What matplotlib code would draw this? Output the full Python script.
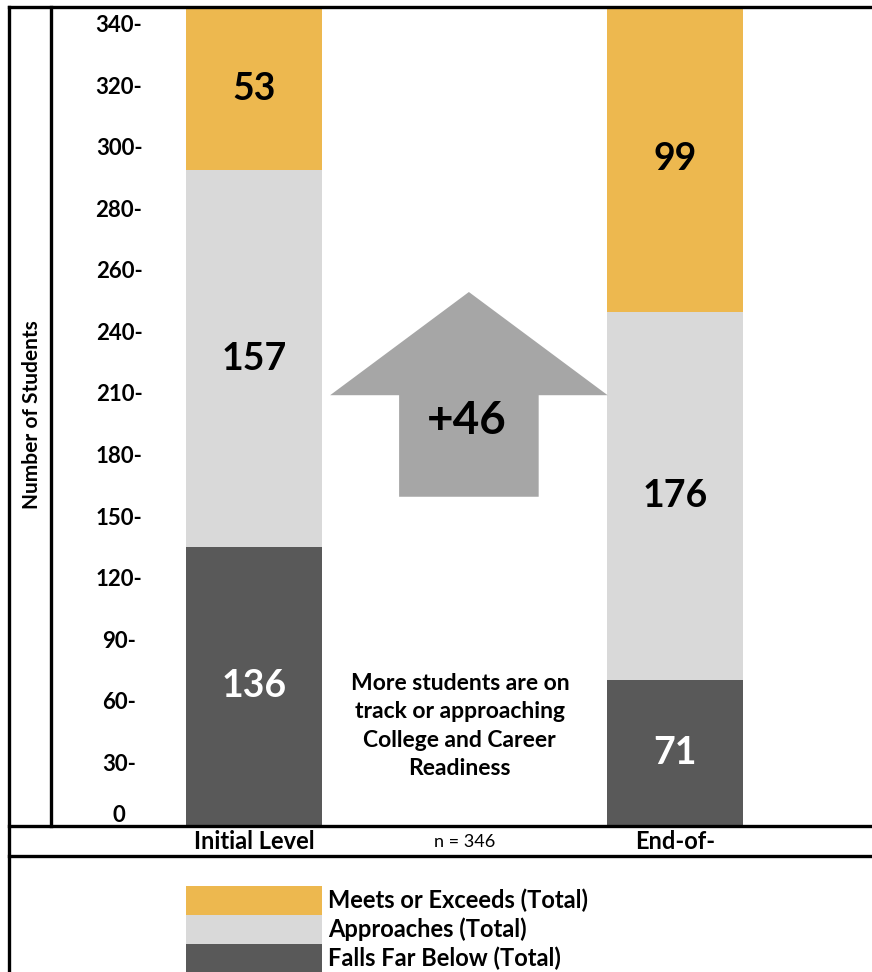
import numpy as np
import matplotlib
matplotlib.use('Agg')
import matplotlib.pyplot as plt
from matplotlib.lines import Line2D
from matplotlib.patches import Polygon

plt.rcParams['font.family'] = ['Lato', 'DejaVu Sans']
plt.rcParams['font.weight'] = 'bold'

# Student counts per level
periods = ['Initial Level', 'End-of-']
levels = ['Falls Far Below (Total)', 'Approaches (Total)', 'Meets or Exceeds (Total)']
falls_far_below = [136, 71]
approaches = [157, 176]
meets_exceeds = [53, 99]
y_ticks = [0, 30, 60, 90, 120, 150, 180, 210, 240, 260, 280, 300, 320, 340]

level_colors = ['#595959', '#D9D9D9', '#EDB84F']
label_colors = ['white', 'black', 'black']

W, H = 872, 972
fig = plt.figure(figsize=(W / 100, H / 100), dpi=100)


def fig_box(x0, y0, x1, y1):
    return [x0 / W, 1 - y1 / H, (x1 - x0) / W, (y1 - y0) / H]


def fig_line(xs, ys):
    fig.add_artist(Line2D([x / W for x in xs], [1 - y / H for y in ys],
                          transform=fig.transFigure, color='black', lw=2.4,
                          solid_capstyle='projecting'))


ax = fig.add_axes(fig_box(51, 7, W, 826))


# axis runs 30 per step up to 240, then 20 per step
def fwd(y):
    y = np.asarray(y, dtype=float)
    return np.where(y <= 240, y / 30, 8 + (y - 240) / 20)


def inv(t):
    t = np.asarray(t, dtype=float)
    return np.where(t <= 8, t * 30, 240 + (t - 8) * 20)


ax.set_yscale('function', functions=(fwd, inv))

x = np.arange(len(periods))
series = [falls_far_below, approaches, meets_exceeds]
totals = np.sum(series, axis=0)
bottom = np.zeros(len(periods))
bar_w = 0.323
containers = []
for vals, name, col, tcol in zip(series, levels, level_colors, label_colors):
    vals = np.array(vals)
    bc = ax.bar(x, vals, bar_w, bottom=bottom, color=col, label=name, linewidth=0)
    containers.append(bc)
    mid = inv((fwd(bottom) + fwd(bottom + vals)) / 2)
    for xi, yi, v in zip(x, mid, vals):
        ax.text(xi, yi, str(v), ha='center', va='center', fontsize=27,
                fontweight='bold', color=tcol)
    bottom = bottom + vals

ax.set_xlim(-0.4822, 1.4679)
ax.set_ylim(0, totals.max())
for s in ax.spines.values():
    s.set_visible(False)

ax.set_yticks(y_ticks)
ax.set_yticklabels([f'{t}-' if t else '0' for t in y_ticks],
                   ha='center', va='center', fontweight='bold')
ax.yaxis.set_minor_locator(matplotlib.ticker.NullLocator())
ax.tick_params(axis='y', length=0, pad=-49, labelsize=16)
# keep the zero label clear of the base line
ax.get_yticklabels()[0].set_va('bottom')

ax.set_xticks(x)
ax.set_xticklabels(periods, fontsize=17, fontweight='bold')
ax.tick_params(axis='x', length=0, pad=3)

ax.annotate(f'n = {totals[0]}', xy=(0.5, -0.02), xycoords=('data', 'axes fraction'),
            ha='center', va='center', fontsize=13, fontweight='normal',
            annotation_clip=False)

# gain arrow between the two bars
gain = meets_exceeds[1] - meets_exceeds[0]
arrow_pts = [(0.509, 0.652), (0.678, 0.526), (0.594, 0.526), (0.594, 0.402),
             (0.424, 0.402), (0.424, 0.526), (0.340, 0.526)]
ax.add_patch(Polygon(arrow_pts, closed=True, transform=ax.transAxes,
                     facecolor='#A6A6A6', edgecolor='none'))
ax.text(0.507, 0.495, f'+{gain}', transform=ax.transAxes, ha='center',
        va='center', fontsize=33, fontweight='bold', color='black')

ax.text(0.498, 0.122, 'More students are on\ntrack or approaching\nCollege and Career\nReadiness',
        transform=ax.transAxes, ha='center', va='center', fontsize=16.5,
        fontweight='bold', linespacing=1.43)

fig.text(32 / W, 1 - 415 / H, 'Number of Students', rotation=90, ha='center',
         va='center', fontsize=15, fontweight='bold')

# frame lines
fig_line([9, W], [7, 7])
fig_line([9, 9], [7, H])
fig_line([51, 51], [7, 826])
fig_line([9, W], [826, 826])
fig_line([9, W], [856, 856])

# legend patches stacked with no gaps
leg_fs = 17
fs_px = leg_fs * 100 / 72
handles = containers[::-1]
fig.legend(handles, [h.get_label() for h in handles], loc='upper left',
           bbox_to_anchor=(186 / W, 1 - 886 / H), bbox_transform=fig.transFigure,
           frameon=False, handlelength=136 / fs_px,
           handleheight=(29 / fs_px - 0.245) / 0.65,
           labelspacing=0, handletextpad=0.25, borderpad=0, borderaxespad=0,
           prop={'weight': 'bold', 'size': leg_fs})

fig.savefig('out.png', dpi=100)
